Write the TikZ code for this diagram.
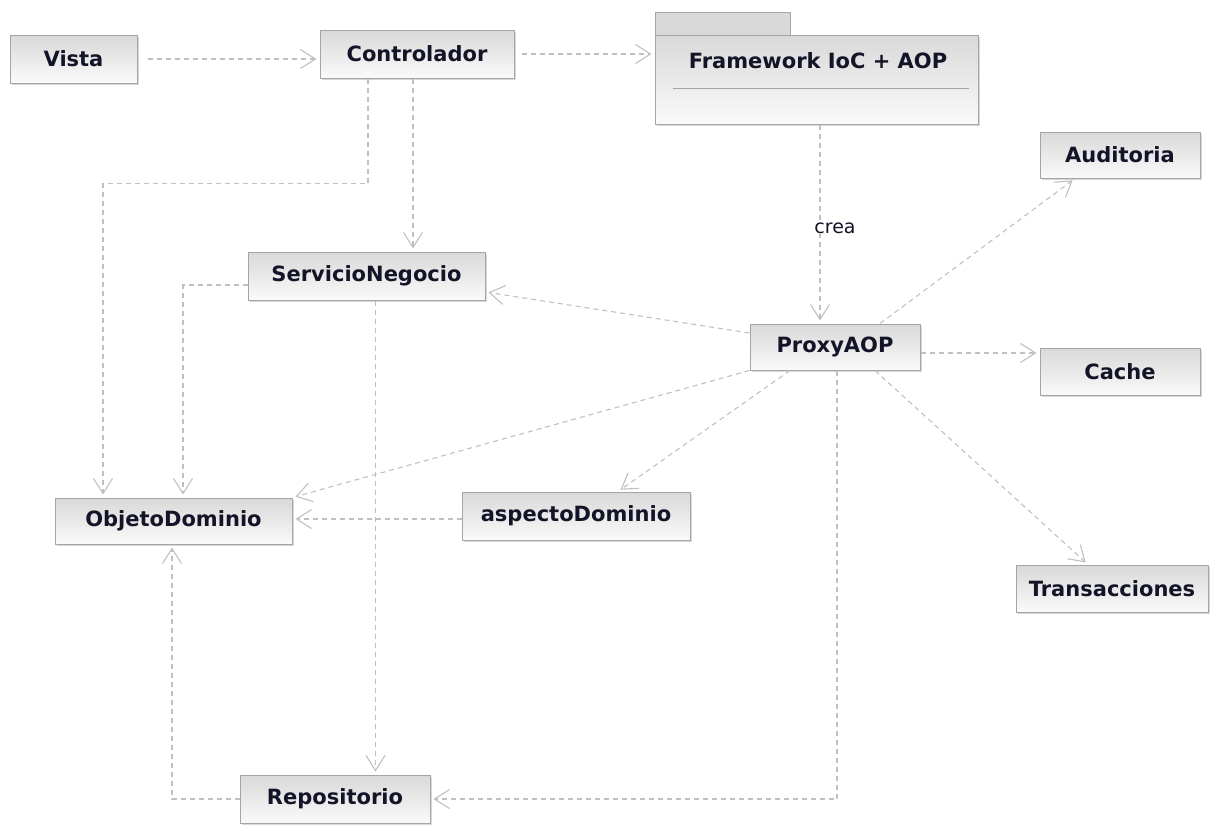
\documentclass[tikz,border=0pt]{standalone}
\usepackage{fontspec}
\setmainfont{DejaVu Sans}
\usetikzlibrary{arrows.meta,shadows}
\definecolor{edgegray}{RGB}{192,192,192}
\definecolor{boxborder}{RGB}{165,165,165}
\definecolor{txt}{RGB}{20,20,40}
\tikzset{
  cls/.style={draw=boxborder, line width=1pt, top color=black!15, bottom color=black!2,
    drop shadow={shadow xshift=2pt, shadow yshift=-2pt, fill=black!30, opacity=0.5},
    font=\fontsize{21}{24}\selectfont\bfseries, text=txt, inner sep=0pt},
  dep/.style={draw=edgegray, line width=1.1pt, dash pattern=on 5pt off 4pt,
    -{Straight Barb[length=15pt,width=19pt,line width=1.1pt]}, shorten >=3pt},
}
\begin{document}
\begin{tikzpicture}[x=1pt,y=-1pt]
\useasboundingbox (0,0) rectangle (1224,825);
% nodes
\node[cls, minimum width=127pt, minimum height=48pt] (vista) at (73.5,59) {Vista};
\node[cls, minimum width=194pt, minimum height=48pt] (ctrl) at (417,54) {Controlador};
% package
\draw[boxborder, line width=1pt, fill=black!15] (655,12) rectangle (790,35);
\node[cls, minimum width=323pt, minimum height=89pt] (frame) at (816.5,79.5) {};
\node[font=\fontsize{21}{24}\selectfont\bfseries, text=txt] (frametxt) at (818,61) {Framework IoC + AOP};
\draw[boxborder, line width=1pt] ([xshift=18pt,yshift=-8.5pt]frame.west) -- ([xshift=-10pt,yshift=-8.5pt]frame.east);
\node[cls, minimum width=160pt, minimum height=46pt] (audit) at (1120,155) {Auditoria};
\node[cls, minimum width=237pt, minimum height=48pt] (serv) at (366.5,276) {ServicioNegocio};
\node[cls, minimum width=170pt, minimum height=46pt] (proxy) at (835,347) {ProxyAOP};
\node[cls, minimum width=160pt, minimum height=47pt] (cache) at (1120,371.5) {Cache};
\node[cls, minimum width=237pt, minimum height=46pt] (obj) at (173.5,521) {ObjetoDominio};
\node[cls, minimum width=228pt, minimum height=48pt] (asp) at (576,516) {aspectoDominio};
\node[cls, minimum width=192pt, minimum height=47pt] (trans) at (1112,588.5) {Transacciones};
\node[cls, minimum width=190pt, minimum height=48pt] (repo) at (335,799) {Repositorio};
% edges
\draw[dep, shorten <=10pt] (vista.east) -- (vista.east -| ctrl.west);
\draw[dep, shorten <=7pt] (ctrl.east) -- (ctrl.east -| frame.west);
\draw[dep] ([xshift=-49pt]ctrl.south) -- ++(0,105) -| ([xshift=-70.5pt]obj.north);
\draw[dep] ([xshift=-4pt]ctrl.south) -- ([xshift=-4pt]ctrl.south |- serv.north);
\draw[dep] ([xshift=3.5pt]frame.south) -- ([xshift=3.5pt]frame.south |- proxy.north)
  node[pos=0.52, xshift=15pt, fill=white, inner sep=1pt, font=\fontsize{19}{22}\selectfont, text=txt] (crea) {crea};
\draw[dep] ([xshift=45pt]proxy.north) -- ([xshift=-45pt]audit.south);
\draw[dep] ([yshift=14pt]proxy.west) -- ([yshift=-16pt]serv.east);
\draw[dep] ([yshift=-6pt]proxy.east) -- ([yshift=-6pt]proxy.east -| cache.west);
\draw[dep] (proxy.south west) -- (obj.north east);
\draw[dep] ([xshift=-45pt]proxy.south) -- ([xshift=42pt]asp.north);
\draw[dep] ([xshift=40pt]proxy.south) -- ([xshift=-24pt]trans.north);
\draw[dep] ([xshift=2pt]proxy.south) |- (repo.east);
\draw[dep] ([yshift=-9pt]serv.west) -| ([xshift=9.5pt]obj.north);
\draw[dep] ([xshift=9pt]serv.south) -- ([xshift=9pt]serv.south |- repo.north);
\draw[dep] ([yshift=-3pt]asp.west) -- ([yshift=-3pt]asp.west -| obj.east);
\draw[dep] (repo.west) -| ([xshift=-1.5pt]obj.south);
\end{tikzpicture}
\end{document}
